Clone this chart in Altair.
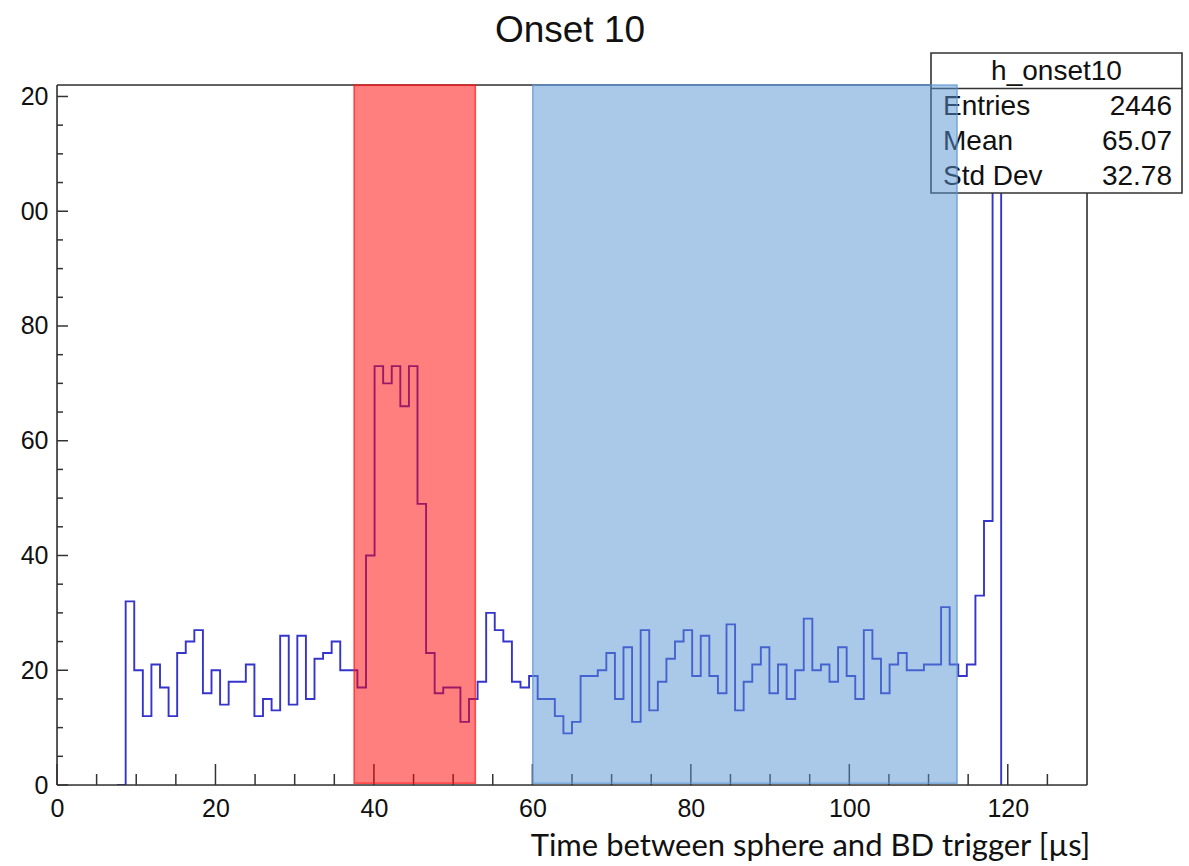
import altair as alt
import pandas as pd

# ---------------- data ----------------
x_min, x_max = 0.0, 130.0
y_min, y_max = 0.0, 122.0
n_bins = 120
first_bin = 7  # index of first listed bin (bin width = 130/120)
counts = [
    0, 32, 20, 12, 21, 17, 12, 23, 25, 27, 16, 20, 14,          # bins 7-19
    18, 18, 21, 12, 15, 13, 26, 14, 26, 15, 22, 23, 25, 20, 20,  # 20-34
    17, 40, 73, 70, 73, 66, 73, 49, 23, 16, 17, 17, 11, 15, 18,  # 35-49
    30, 27, 25, 18, 17, 19, 15, 15, 12, 9, 11, 19, 19, 20, 23,   # 50-64
    15, 24, 11, 27, 13, 18, 22, 25, 27, 19, 26, 19, 16, 28, 13,  # 65-79
    18, 21, 24, 16, 21, 15, 20, 29, 20, 21, 18, 24, 19, 15, 27,  # 80-94
    22, 16, 21, 23, 20, 20, 21, 21, 31, 21, 19, 21, 33, 46, 136, # 95-109
    0,                                                           # 110
]

red_band = [37.5, 52.8]
blue_band = [60.05, 113.6]
band_floor = 0.3

x_major = [0, 20, 40, 60, 80, 100, 120]
x_minor = [v for v in range(5, 130, 5) if v % 20 != 0]
y_major = [0, 20, 40, 60, 80, 100, 120]
y_minor = [v for v in range(5, 122, 5) if v % 20 != 0]

title_text = "Onset 10"
x_title = "Time between sphere and BD trigger [µs]"
stats_title = "h_onset10"
stat_names = ["Entries", "Mean", "Std Dev"]
stat_values = ["2446", "65.07", "32.78"]

# ---------------- build ----------------
W, H = 1030, 700
bin_width = (x_max - x_min) / n_bins
hist = pd.DataFrame({
    "t": [x_min + (first_bin + i) * bin_width for i in range(len(counts))],
    "n": counts,
})

xs = alt.Scale(domain=[x_min, x_max], nice=False, zero=False)
ys = alt.Scale(domain=[y_min, y_max], nice=False)
one = pd.DataFrame({"k": [0]})
FRAME = "#333333"
FONT = "Liberation Sans"

x_axis = alt.Axis(values=x_major, title=x_title, labelFontSize=25, labelFont=FONT,
                  labelColor="#111", labelPadding=11, ticks=False, tickSize=0,
                  domain=False, grid=False, titleFont="Lato", titleFontSize=31,
                  titleFontWeight="normal", titleColor="#111", titleX=753, titleY=70,
                  titleAlign="center", titleBaseline="alphabetic", labelFlush=False)
y_axis = alt.Axis(values=y_major, title=None, labelFontSize=25, labelFont=FONT,
                  labelColor="#111", labelPadding=9, ticks=False, tickSize=0,
                  domain=False, grid=False,
                  labelExpr="datum.value >= 100 ? substring(datum.label, 1) : datum.label")

line = alt.Chart(hist).mark_line(interpolate="step-after", color="#3535cc",
                                 strokeWidth=1.9, clip=True).encode(
    x=alt.X("t:Q", scale=xs, axis=x_axis),
    y=alt.Y("n:Q", scale=ys, axis=y_axis),
)

def frame_rule(**enc):
    return alt.Chart(one).mark_rule(color=FRAME, strokeWidth=1.6).encode(**enc)

frame = [
    frame_rule(x=alt.value(0), x2=alt.value(W), y=alt.value(0)),
    frame_rule(x=alt.value(0), x2=alt.value(W), y=alt.value(H)),
    frame_rule(x=alt.value(0), y=alt.value(0), y2=alt.value(H)),
    frame_rule(x=alt.value(W), y=alt.value(0), y2=alt.value(H)),
]

xmaj = alt.Chart(pd.DataFrame({"t": x_major})).mark_rule(color=FRAME, strokeWidth=1.5).encode(
    x=alt.X("t:Q", scale=xs), y=alt.value(H), y2=alt.value(H - 21))
xmin_ = alt.Chart(pd.DataFrame({"t": x_minor})).mark_rule(color=FRAME, strokeWidth=1.5).encode(
    x=alt.X("t:Q", scale=xs), y=alt.value(H), y2=alt.value(H - 11))
ymaj = alt.Chart(pd.DataFrame({"n": y_major})).mark_rule(color=FRAME, strokeWidth=1.5).encode(
    y=alt.Y("n:Q", scale=ys), x=alt.value(0), x2=alt.value(11))
ymin_ = alt.Chart(pd.DataFrame({"n": y_minor})).mark_rule(color=FRAME, strokeWidth=1.5).encode(
    y=alt.Y("n:Q", scale=ys), x=alt.value(0), x2=alt.value(6))

# title as a text mark (so the stats box above the frame does not push it)
title = alt.Chart(pd.DataFrame({"s": [title_text]})).mark_text(
    font=FONT, fontSize=37, align="center", baseline="alphabetic", color="#111").encode(
    x=alt.value(W / 2 - 2), y=alt.value(-43), text="s:N")

# stats box
bx0, bx1, by0, by1 = 874, 1125, -32, 108
SF = 28
stats_bg = alt.Chart(one).mark_rect(fill="white", stroke=FRAME, strokeWidth=1.6).encode(
    x=alt.value(bx0), x2=alt.value(bx1), y=alt.value(by0), y2=alt.value(by1))
stats_sep = alt.Chart(one).mark_rule(color=FRAME, strokeWidth=1.6).encode(
    x=alt.value(bx0), x2=alt.value(bx1), y=alt.value(3.5))
stats_head = alt.Chart(pd.DataFrame({"s": [stats_title]})).mark_text(
    font=FONT, fontSize=SF, align="center", baseline="middle", color="#111").encode(
    x=alt.value((bx0 + bx1) / 2), y=alt.value(-13), text="s:N")
stats_rows = []
for i, (nm, vv) in enumerate(zip(stat_names, stat_values)):
    py = 21.7 + 35 * i
    df = pd.DataFrame({"name": [nm], "val": [vv]})
    stats_rows.append(alt.Chart(df).mark_text(font=FONT, fontSize=SF, align="left",
                                              baseline="middle", color="#111").encode(
        x=alt.value(886), y=alt.value(py), text="name:N"))
    stats_rows.append(alt.Chart(df).mark_text(font=FONT, fontSize=SF, align="right",
                                              baseline="middle", color="#111").encode(
        x=alt.value(1115), y=alt.value(py), text="val:N"))

def band(lo_hi, fill, stroke, fo, so):
    df = pd.DataFrame({"t": [lo_hi[0]], "t2": [lo_hi[1]], "n": [band_floor], "n2": [y_max]})
    return alt.Chart(df).mark_rect(fill=fill, fillOpacity=fo, stroke=stroke,
                                   strokeOpacity=so, strokeWidth=1.5).encode(
        x=alt.X("t:Q", scale=xs), x2="t2:Q",
        y=alt.Y("n:Q", scale=ys), y2="n2:Q")

red = band(red_band, "#ff0000", "#ff1a1a", 0.5, 0.75)
blue = band(blue_band, "#5591d1", "#5b95d3", 0.5, 0.75)

chart = alt.layer(
    line, *frame, xmaj, xmin_, ymaj, ymin_, title,
    stats_bg, stats_sep, stats_head, *stats_rows,
    red, blue,
).properties(
    width=W, height=H,
    autosize=alt.AutoSizeParams(type="none"),
    padding={"left": 57, "top": 85, "right": 102, "bottom": 81},
).configure_view(strokeWidth=0).configure(background="white")

chart.save("out.html", embed_options={"renderer": "svg", "actions": False})
